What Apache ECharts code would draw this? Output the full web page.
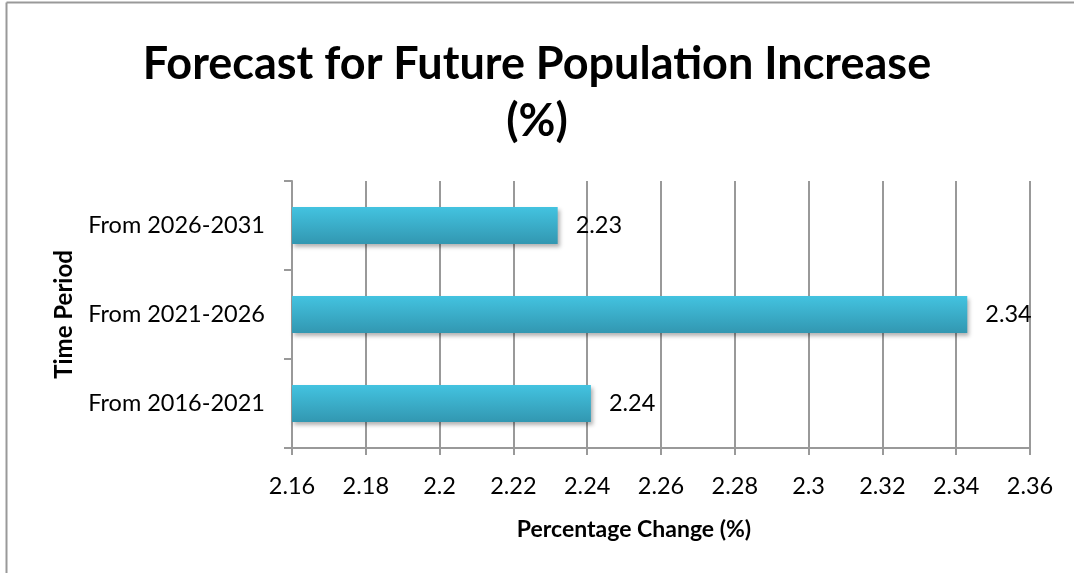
<!DOCTYPE html>
<html><head><meta charset="utf-8">
<script src="https://cdn.jsdelivr.net/npm/echarts@6/dist/echarts.min.js"></script>
<style>html,body{margin:0;padding:0;background:#fff}#c{width:1074px;height:573px}</style>
</head><body><div id="c"></div>
<script>
const categories = ['From 2016-2021', 'From 2021-2026', 'From 2026-2031'];
const values = [2.241, 2.343, 2.232];
const xTicksMin = 2.16, xTicksMax = 2.36, xTickStep = 0.02;
const titleText = 'Forecast for Future Population Increase\n(%)';
const xName = 'Percentage Change (%)';
const yName = 'Time Period';

const chart = echarts.init(document.getElementById('c'));
const F = 'Lato, "Open Sans", sans-serif';
chart.setOption({
  animation: false,
  backgroundColor: '#fff',
  title: {
    text: titleText, left: 'center', top: 31,
    textStyle: { fontFamily: F, fontWeight: 'bold', fontSize: 45, lineHeight: 57, color: '#000' }
  },
  graphic: [
    { type: 'line', shape: { x1: 6.5, y1: 2.5, x2: 1074, y2: 2.5 }, style: { stroke: '#999', lineWidth: 2 } },
    { type: 'line', shape: { x1: 6.5, y1: 2.5, x2: 6.5, y2: 573 }, style: { stroke: '#999', lineWidth: 2 } }
  ],
  grid: { left: 292, right: 44, top: 181, bottom: 125 },
  xAxis: {
    type: 'value', min: xTicksMin, max: xTicksMax, interval: xTickStep,
    name: xName, nameLocation: 'middle', nameGap: 70,
    nameTextStyle: { fontFamily: F, fontWeight: 'bold', fontSize: 23, color: '#000', padding: [0, 54, 0, 0] },
    axisLine: { show: true, lineStyle: { color: '#999', width: 2 } },
    axisTick: { show: true, length: 7, lineStyle: { color: '#999', width: 2 } },
    splitLine: { show: true, lineStyle: { color: '#999', width: 2 } },
    axisLabel: { fontFamily: F, fontSize: 23.5, color: '#000', margin: 26,
      formatter: v => String(parseFloat(v.toFixed(2))) }
  },
  yAxis: {
    type: 'category', data: categories,
    name: yName, nameLocation: 'middle', nameGap: 216, nameRotate: 90,
    nameTextStyle: { fontFamily: F, fontWeight: 'bold', fontSize: 24, color: '#000' },
    axisLine: { show: true, lineStyle: { color: '#999', width: 2 } },
    axisTick: { show: true, length: 8, lineStyle: { color: '#999', width: 2 } },
    axisLabel: { fontFamily: F, fontSize: 23.5, color: '#000', margin: 27 }
  },
  series: [{
    type: 'bar', data: values, barWidth: 37,
    itemStyle: {
      color: new echarts.graphic.LinearGradient(0, 0, 0, 1, [
        { offset: 0, color: '#43c3e0' }, { offset: 1, color: '#3297b1' }
      ]),
      shadowColor: 'rgba(0,0,0,0.3)', shadowBlur: 4, shadowOffsetX: 2, shadowOffsetY: 3
    },
    label: { show: true, position: 'right', distance: 18, fontFamily: F, fontSize: 23.5, color: '#000',
      formatter: p => p.value.toFixed(2) }
  }]
});
</script></body></html>
